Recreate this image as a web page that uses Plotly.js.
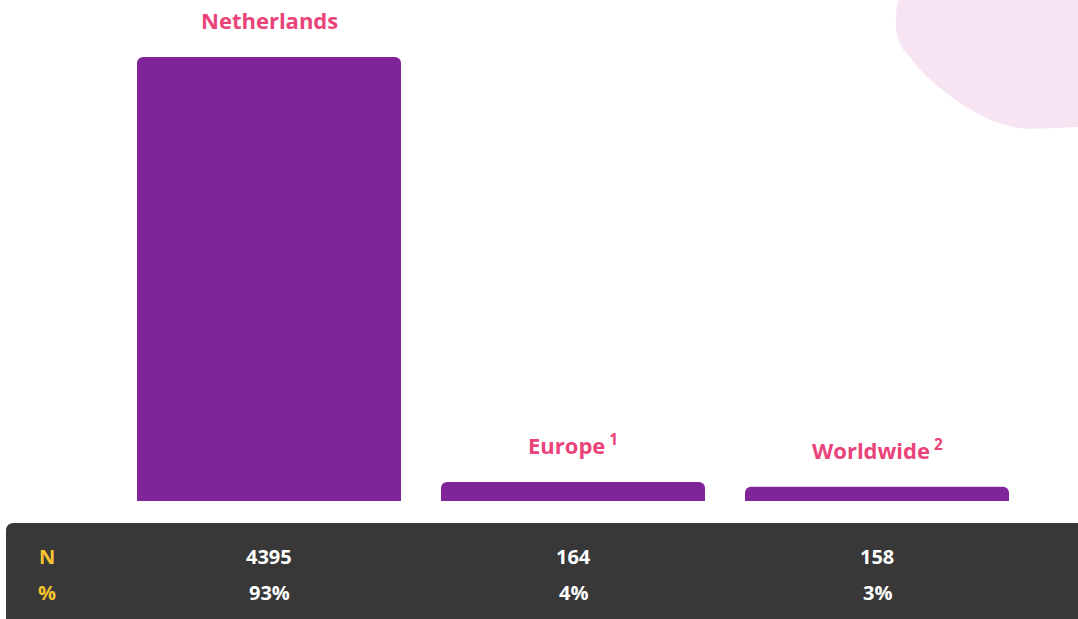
<!DOCTYPE html>
<html>
<head>
<meta charset="utf-8">
<script src="https://cdn.plot.ly/plotly-3.0.1.min.js"></script>
<style>html,body{margin:0;padding:0;background:#fff;}#chart{width:1078px;height:619px;}</style>
</head>
<body>
<div id="chart"></div>
<script>
const categories = ["Netherlands", "Europe", "Worldwide"];
const labelSup = ["", "1", "2"];
const nValues = [4395, 164, 158];
const pctValues = [93, 4, 3];

const W = 1078, H = 619;
function P(x, y) { return (x / W).toFixed(5) + "," + (1 - y / H).toFixed(5); }

const FONT = "Open Sans, Lato, sans-serif";
const pink = "#e9437a";

const annotations = [];
categories.forEach((c, i) => {
  annotations.push({
    x: c, y: pctValues[i], xref: "x", yref: "y",
    xanchor: "center", yanchor: "bottom", yshift: 20, showarrow: false,
    text: "<b>" + c + (labelSup[i] ? "<sup> " + labelSup[i] + "</sup>" : "") + "</b>",
    font: {family: FONT, size: 22, color: pink}
  });
  annotations.push({
    x: c, y: 1 - 556 / H, xref: "x", yref: "paper", xanchor: "center", yanchor: "middle", showarrow: false,
    text: "<b>" + nValues[i] + "</b>", font: {family: FONT, size: 20, color: "#ffffff"}
  });
  annotations.push({
    x: c, y: 1 - 592 / H, xref: "x", yref: "paper", xanchor: "center", yanchor: "middle", showarrow: false,
    text: "<b>" + pctValues[i] + "%</b>", font: {family: FONT, size: 20, color: "#ffffff"}
  });
});
annotations.push({x: 47 / W, y: 1 - 556 / H, xref: "paper", yref: "paper", xanchor: "center", yanchor: "middle",
  showarrow: false, text: "<b>N</b>", font: {family: FONT, size: 20, color: "#f6c431"}});
annotations.push({x: 47 / W, y: 1 - 592 / H, xref: "paper", yref: "paper", xanchor: "center", yanchor: "middle",
  showarrow: false, text: "<b>%</b>", font: {family: FONT, size: 20, color: "#f6c431"}});

const shapes = [
  {type: "path", xref: "paper", yref: "paper", layer: "below", line: {width: 0}, fillcolor: "#f7e4f3",
   path: "M" + P(898, 0) + " C" + P(893, 25) + " " + P(896, 45) + " " + P(910, 57) +
         " C" + P(920, 72) + " " + P(935, 84) + " " + P(950, 96) +
         " C" + P(975, 114) + " " + P(1000, 128) + " " + P(1030, 129) +
         " L" + P(1078, 127) + " L" + P(1078, 0) + " Z"},
  {type: "path", xref: "paper", yref: "paper", layer: "below", line: {width: 0}, fillcolor: "#383838",
   path: "M" + P(6, 619) + " L" + P(6, 531) + " Q" + P(6, 523) + " " + P(14, 523) +
         " L" + P(1078, 523) + " L" + P(1078, 619) + " Z"}
];

const pxPerUnit = 444 / pctValues[0];
const yMin = -(H - 501) / pxPerUnit;
const yMax = 501 / pxPerUnit;

const trace = {
  type: "bar", x: categories, y: pctValues, width: 264 / 304,
  marker: {color: "#80249a", cornerradius: 6}, hoverinfo: "skip"
};

const layout = {
  width: W, height: H, margin: {l: 0, r: 0, t: 0, b: 0},
  paper_bgcolor: "#ffffff", plot_bgcolor: "rgba(0,0,0,0)",
  showlegend: false,
  xaxis: {type: "category", range: [-269 / 304, 2 + (W - 877) / 304], visible: false, fixedrange: true},
  yaxis: {range: [yMin, yMax], visible: false, fixedrange: true},
  annotations: annotations, shapes: shapes
};

Plotly.newPlot("chart", [trace], layout, {staticPlot: true, displayModeBar: false});
</script>
</body>
</html>
